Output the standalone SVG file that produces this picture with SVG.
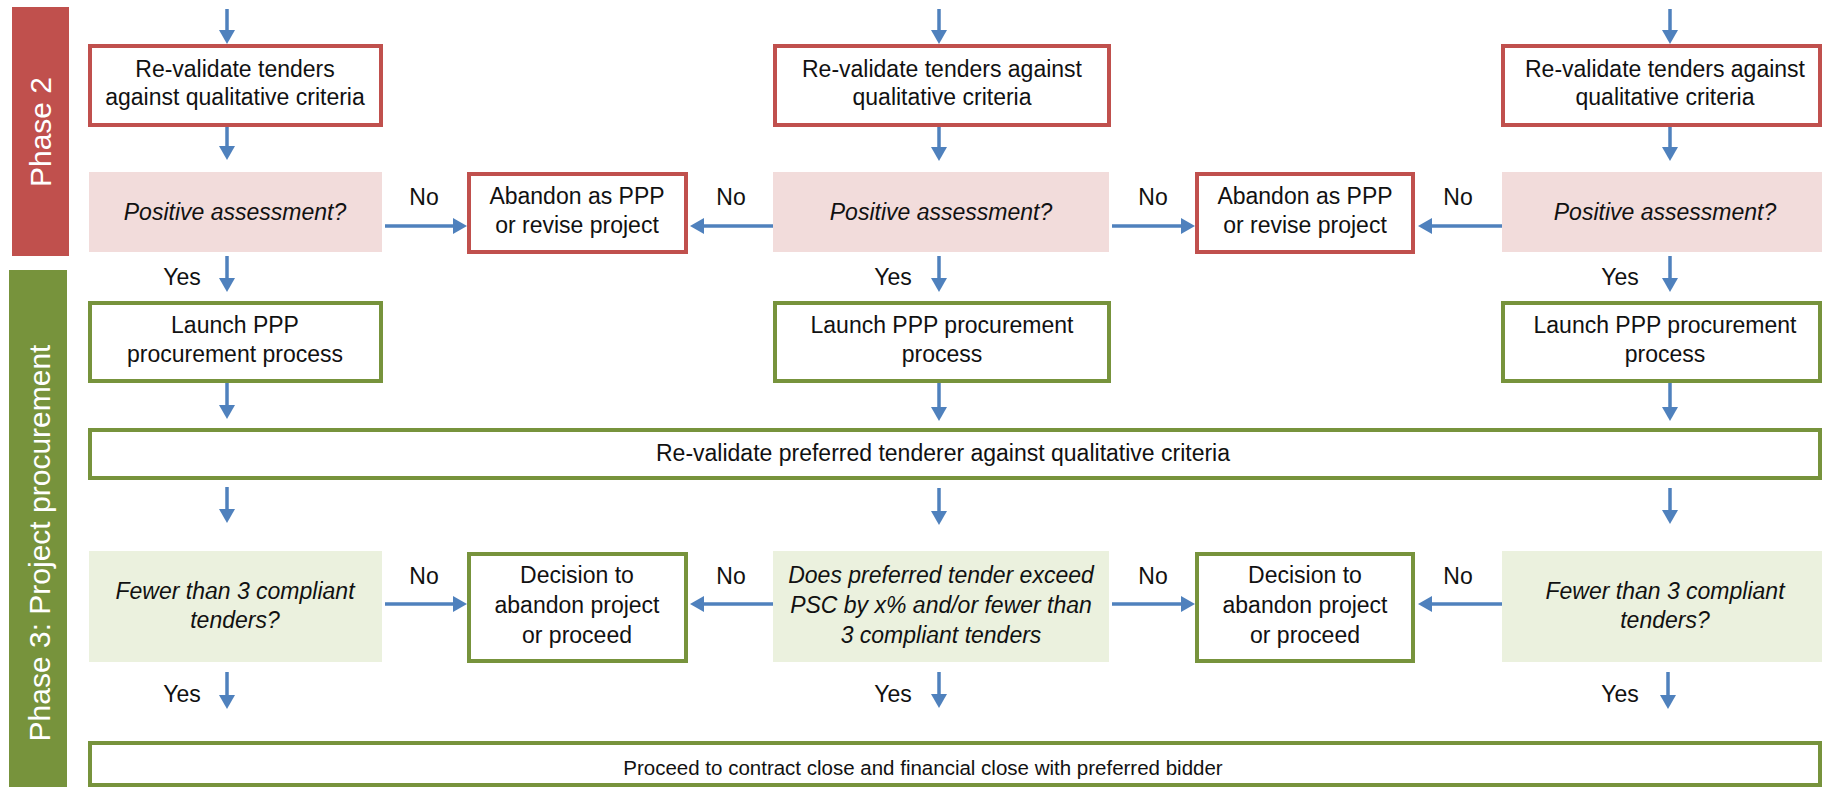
<svg xmlns="http://www.w3.org/2000/svg" width="1822" height="787" viewBox="0 0 1822 787">
<defs>
<style>
text{font-family:"Liberation Sans",Arial,sans-serif;font-size:23px;fill:#111;text-anchor:middle}
.it{font-style:italic}
.ph{fill:#fff;font-size:30px}
.rbox{fill:#fff;stroke:#C0504D;stroke-width:4}
.gbox{fill:#fff;stroke:#77933C;stroke-width:4}
.pink{fill:#F2DCDB}
.lgreen{fill:#EBF1DE}
.conn line{stroke:#4F81BD;stroke-width:3.5;marker-end:url(#ah)}
</style>
<marker id="ah" markerUnits="userSpaceOnUse" markerWidth="15" markerHeight="16" refX="1" refY="8" orient="auto">
<path d="M0,0 L14,8 L0,16 z" fill="#4F81BD"/>
</marker>
</defs>
<rect width="1822" height="787" fill="#fff"/>

<g id="phase2">
<rect x="12" y="7" width="57" height="249" fill="#C0504D"/>
<text class="ph" transform="translate(51,132) rotate(-90)">Phase 2</text>
</g>
<g id="phase3">
<rect x="9" y="270" width="58" height="517" fill="#77933C"/>
<text class="ph" transform="translate(50,543) rotate(-90)">Phase 3: Project procurement</text>
</g>

<g id="reval1"><rect class="rbox" x="90" y="46" width="291" height="79"/><text x="235" y="77">Re-validate tenders</text><text x="235" y="105">against qualitative criteria</text></g>
<g id="reval2"><rect class="rbox" x="775" y="46" width="334" height="79"/><text x="942" y="77">Re-validate tenders against</text><text x="942" y="105">qualitative criteria</text></g>
<g id="reval3"><rect class="rbox" x="1503" y="46" width="317" height="79"/><text x="1665" y="77">Re-validate tenders against</text><text x="1665" y="105">qualitative criteria</text></g>

<g id="pos1"><rect class="pink" x="89" y="172" width="293" height="80"/><text class="it" x="235" y="220">Positive assessment?</text></g>
<g id="pos2"><rect class="pink" x="773" y="172" width="336" height="80"/><text class="it" x="941" y="220">Positive assessment?</text></g>
<g id="pos3"><rect class="pink" x="1502" y="172" width="320" height="80"/><text class="it" x="1665" y="220">Positive assessment?</text></g>
<g id="aband1"><rect class="rbox" x="469" y="174" width="217" height="78"/><text x="577" y="204">Abandon as PPP</text><text x="577" y="233">or revise project</text></g>
<g id="aband2"><rect class="rbox" x="1197" y="174" width="216" height="78"/><text x="1305" y="204">Abandon as PPP</text><text x="1305" y="233">or revise project</text></g>

<g id="launch1"><rect class="gbox" x="90" y="303" width="291" height="78"/><text x="235" y="333">Launch PPP</text><text x="235" y="362">procurement process</text></g>
<g id="launch2"><rect class="gbox" x="775" y="303" width="334" height="78"/><text x="942" y="333">Launch PPP procurement</text><text x="942" y="362">process</text></g>
<g id="launch3"><rect class="gbox" x="1503" y="303" width="317" height="78"/><text x="1665" y="333">Launch PPP procurement</text><text x="1665" y="362">process</text></g>

<g id="revalpref"><rect class="gbox" x="90" y="430" width="1730" height="48"/><text x="943" y="461">Re-validate preferred tenderer against qualitative criteria</text></g>

<g id="fewer1"><rect class="lgreen" x="89" y="551" width="293" height="111"/><text class="it" x="235" y="599">Fewer than 3 compliant</text><text class="it" x="235" y="628">tenders?</text></g>
<g id="exceed"><rect class="lgreen" x="773" y="551" width="336" height="111"/><text class="it" x="941" y="583">Does preferred tender exceed</text><text class="it" x="941" y="613">PSC by x% and/or fewer than</text><text class="it" x="941" y="643">3 compliant tenders</text></g>
<g id="fewer3"><rect class="lgreen" x="1502" y="551" width="320" height="111"/><text class="it" x="1665" y="599">Fewer than 3 compliant</text><text class="it" x="1665" y="628">tenders?</text></g>
<g id="decide1"><rect class="gbox" x="469" y="554" width="217" height="107"/><text x="577" y="583">Decision to</text><text x="577" y="613">abandon project</text><text x="577" y="643">or proceed</text></g>
<g id="decide2"><rect class="gbox" x="1197" y="554" width="216" height="107"/><text x="1305" y="583">Decision to</text><text x="1305" y="613">abandon project</text><text x="1305" y="643">or proceed</text></g>

<g id="close"><rect class="gbox" x="90" y="743" width="1730" height="42"/><text x="923" y="775" style="font-size:20.5px">Proceed to contract close and financial close with preferred bidder</text></g>

<g id="connectors" class="conn">
<line x1="227" y1="9" x2="227" y2="31"/>
<line x1="227" y1="127" x2="227" y2="147"/>
<line x1="227" y1="256" x2="227" y2="279"/>
<line x1="227" y1="383" x2="227" y2="406"/>
<line x1="227" y1="487" x2="227" y2="510"/>
<line x1="227" y1="672" x2="227" y2="696"/>
<line x1="939" y1="9" x2="939" y2="31"/>
<line x1="939" y1="127" x2="939" y2="148"/>
<line x1="939" y1="256" x2="939" y2="279"/>
<line x1="939" y1="383" x2="939" y2="408"/>
<line x1="939" y1="488" x2="939" y2="512"/>
<line x1="939" y1="672" x2="939" y2="695"/>
<line x1="1670" y1="9" x2="1670" y2="31"/>
<line x1="1670" y1="127" x2="1670" y2="148"/>
<line x1="1670" y1="256" x2="1670" y2="279"/>
<line x1="1670" y1="383" x2="1670" y2="408"/>
<line x1="1670" y1="488" x2="1670" y2="511"/>
<line x1="1668" y1="672" x2="1668" y2="696"/>
<line x1="385" y1="226" x2="454" y2="226"/>
<line x1="773" y1="226" x2="703" y2="226"/>
<line x1="1112" y1="226" x2="1182" y2="226"/>
<line x1="1502" y1="226" x2="1431" y2="226"/>
<line x1="385" y1="604" x2="454" y2="604"/>
<line x1="773" y1="604" x2="703" y2="604"/>
<line x1="1112" y1="604" x2="1182" y2="604"/>
<line x1="1502" y1="604" x2="1431" y2="604"/>
</g>

<g id="labels">
<text x="424" y="205">No</text>
<text x="731" y="205">No</text>
<text x="1153" y="205">No</text>
<text x="1458" y="205">No</text>
<text x="424" y="584">No</text>
<text x="731" y="584">No</text>
<text x="1153" y="584">No</text>
<text x="1458" y="584">No</text>
<text x="182" y="285">Yes</text>
<text x="893" y="285">Yes</text>
<text x="1620" y="285">Yes</text>
<text x="182" y="702">Yes</text>
<text x="893" y="702">Yes</text>
<text x="1620" y="702">Yes</text>
</g>
</svg>
